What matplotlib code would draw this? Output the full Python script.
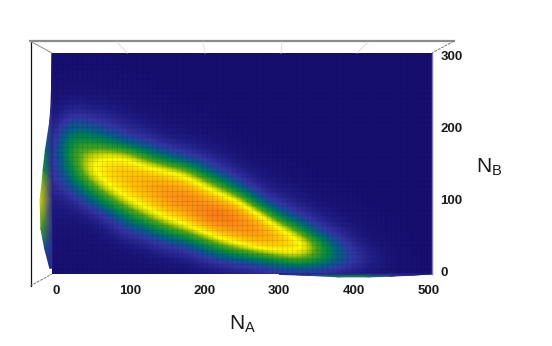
import numpy as np
import matplotlib
matplotlib.use("Agg")
import matplotlib.pyplot as plt
from matplotlib.colors import LinearSegmentedColormap
from matplotlib.lines import Line2D

plt.rcParams['font.family'] = ['Liberation Sans', 'DejaVu Sans']
plt.rcParams['mathtext.fontset'] = 'custom'
plt.rcParams['mathtext.rm'] = 'Liberation Sans'

# Field limits: columns and rows below are evenly spaced between these
na_range = [-5, 505]
nb_range = [-3, 304]

# Surface height, one list per N_A column, read bottom to top
col_00 = [.00, .01, .02, .03, .05, .07, .10, .12, .12, .10, .06, .03, .02, .01, 0, 0]
col_01 = [.01, .015, .02, .03, .05, .09, .24, .34, .44, .42, .28, .13, .05, .02, .01, 0]
col_02 = [.01, .01, .02, .03, .07, .25, .42, .63, .58, .39, .24, .10, .04, .02, .01, 0]
col_03 = [.01, .02, .03, .07, .20, .42, .65, .72, .63, .33, .17, .08, .03, .02, .01, 0]
col_04 = [.01, .02, .06, .18, .36, .62, .73, .76, .60, .21, .11, .05, .02, .01, 0, 0]
col_05 = [.01, .03, .09, .25, .53, .72, .82, .72, .40, .17, .07, .03, .01, .01, 0, 0]
col_06 = [.01, .05, .17, .41, .67, .84, .84, .63, .27, .09, .04, .02, .01, 0, 0, 0]
col_07 = [.02, .07, .20, .52, .76, .92, .80, .52, .18, .07, .03, .01, 0, 0, 0, 0]
col_08 = [.03, .13, .35, .68, .94, .86, .62, .30, .12, .05, .02, .01, 0, 0, 0, 0]
col_09 = [.04, .20, .50, .82, 1.0, .75, .42, .16, .07, .03, .01, 0, 0, 0, 0, 0]
col_10 = [.06, .25, .62, .90, .86, .56, .19, .08, .03, .01, 0, 0, 0, 0, 0, 0]
col_11 = [.08, .30, .76, .88, .64, .20, .09, .04, .01, 0, 0, 0, 0, 0, 0, 0]
col_12 = [.10, .42, .78, .70, .27, .12, .05, .02, .01, 0, 0, 0, 0, 0, 0, 0]
col_13 = [.09, .50, .76, .42, .16, .07, .03, .01, 0, 0, 0, 0, 0, 0, 0, 0]
col_14 = [.09, .45, .48, .18, .08, .03, .01, 0, 0, 0, 0, 0, 0, 0, 0, 0]
col_15 = [.08, .30, .25, .10, .05, .02, .01, 0, 0, 0, 0, 0, 0, 0, 0, 0]
col_16 = [.06, .18, .10, .05, .02, .01, 0, 0, 0, 0, 0, 0, 0, 0, 0, 0]
col_17 = [.04, .08, .04, .02, .01, 0, 0, 0, 0, 0, 0, 0, 0, 0, 0, 0]
col_18 = [.02, .03, .02, .01, 0, 0, 0, 0, 0, 0, 0, 0, 0, 0, 0, 0]
col_19 = [.01, .01, 0, 0, 0, 0, 0, 0, 0, 0, 0, 0, 0, 0, 0, 0]
col_20 = [.00, 0, 0, 0, 0, 0, 0, 0, 0, 0, 0, 0, 0, 0, 0, 0]

# Surface seen edge-on past the left side (N_B, overhang in N_A, colour value)
left_nb = [5, 33, 60, 100, 128, 141, 168, 209, 236, 304]
left_over = [3, 10, 15, 16, 13, 12, 9, 3, 1, 0]
left_val = [.10, .22, .45, .56, .50, .40, .30, .15, .05, 0]

# Surface seen edge-on past the bottom side (N_A, overhang in N_B, colour value)
low_na = [300, 340, 380, 420, 450, 480, 505]
low_over = [.5, 2, 4, 4, 3, 1.5, 0]
low_val = [.12, .2, .38, .38, .15, .05, .03]

x_ticks = [0, 100, 200, 300, 400, 500]
y_ticks = [0, 100, 200, 300]

columns = [col_00, col_01, col_02, col_03, col_04, col_05, col_06, col_07, col_08, col_09, col_10,
           col_11, col_12, col_13, col_14, col_15, col_16, col_17, col_18, col_19, col_20]
Z = np.array(columns).T

W, H = 552, 346
cmap = LinearSegmentedColormap.from_list('surf', [
    (0.00, '#170f70'), (0.06, '#1f1a80'), (0.16, '#3535a5'), (0.26, '#055f88'),
    (0.36, '#008a45'), (0.48, '#50a818'), (0.56, '#d0d800'), (0.62, '#ffff00'),
    (0.72, '#ffc800'), (0.82, '#ff9c10'), (0.92, '#fb7a12'), (1.00, '#ee4a10')])

fig = plt.figure(figsize=(W / 100, H / 100), dpi=100)
ax = fig.add_axes([52 / W, 1 - 274 / H, 380 / W, 221 / H])
dx = (na_range[1] - na_range[0]) / (Z.shape[1] - 1) / 2
dy = (nb_range[1] - nb_range[0]) / (Z.shape[0] - 1) / 2
ax.imshow(Z, origin='lower', aspect='auto', cmap=cmap, vmin=0, vmax=1, interpolation='bicubic',
          extent=[na_range[0] - dx, na_range[1] + dx, nb_range[0] - dy, nb_range[1] + dy])

# Side overhangs
lx = np.array([[na_range[0] - o, na_range[0]] for o in left_over], float)
ly = np.array([[v, v] for v in left_nb], float)
lc = np.array([[v, .12 * (v > 0)] for v in left_val], float)
m = ax.pcolormesh(lx, ly, lc, cmap=cmap, vmin=0, vmax=1, shading='gouraud')
m.set_clip_on(False)
bx = np.array([[v, v] for v in low_na], float)
by = np.array([[nb_range[0] - o, nb_range[0]] for o in low_over], float)
bc = np.array([[v, .1] for v in low_val], float)
m = ax.pcolormesh(bx, by, bc, cmap=cmap, vmin=0, vmax=1, shading='gouraud')
m.set_clip_on(False)

ax.set_xlim(*na_range)
ax.set_ylim(*nb_range)

# Surface mesh
ax.set_xticks(np.arange(-5, 505, 6.7), minor=True)
ax.set_yticks(np.arange(-3, 304, 6.8), minor=True)
ax.grid(which='minor', color='#0a0840', alpha=.09, lw=.8)
ax.tick_params(which='both', length=0)
ax.set_axisbelow(False)
for s in ax.spines.values():
    s.set_visible(False)
ax.spines['right'].set_visible(True)
ax.spines['right'].set_color('#7a78b8')
ax.spines['right'].set_linewidth(1)

ax.set_xticks(x_ticks)
ax.set_yticks(y_ticks)
ax.yaxis.tick_right()
ax.tick_params(axis='x', pad=8)
ax.tick_params(axis='y', pad=6)
for t in ax.get_xticklabels() + ax.get_yticklabels():
    t.set_fontsize(9.5)
    t.set_fontweight('bold')
    t.set_color('#1a1a1a')


def box(x0, y0, x1, y1, **kw):
    fig.add_artist(Line2D([x0 / W, x1 / W], [1 - y0 / H, 1 - y1 / H], **kw))


box(30.5, 41, 30.5, 286, color='#111111', lw=.9)
box(30, 41, 454, 41, color='#8c8c8c', lw=1.6)
box(30, 41, 52, 53, color='#999999', lw=.8)
box(30, 286, 52, 274, color='#777777', lw=.7, ls=(0, (3, 1)))
box(454, 41, 432, 53, color='#777777', lw=.7, ls=(0, (3, 1)))
box(117, 42, 127, 53, color='#dddddd', lw=.7)
box(203, 42, 205, 53, color='#e2e2e2', lw=.7)
box(282, 42, 281, 53, color='#e2e2e2', lw=.7)
box(368, 42, 357, 53, color='#dddddd', lw=.7)

fig.text(243 / W, 1 - 324 / H, r'N$_{\mathrm{A}}$', fontsize=15, color='#1a1a1a', ha='center', va='center')
fig.text(489 / W, 1 - 167 / H, r'N$_{\mathrm{B}}$', fontsize=15, color='#1a1a1a', ha='center', va='center')

fig.savefig('out.png', dpi=100)
